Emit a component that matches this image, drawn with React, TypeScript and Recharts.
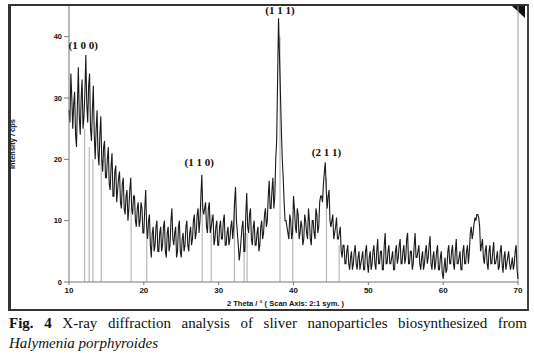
import React from "react";
import {
  LineChart,
  Line,
  XAxis,
  YAxis,
  ReferenceLine,
  ReferenceDot,
} from "recharts";

// 2θ grid: 10° .. 70° in 0.25° steps, plus readings half way between them
const startAngle = 10;
const stepAngle = 0.25;

// counts at x.00 / x.25 / x.50 / x.75
const intensity = [
  28, 34, 25, 31, // 10
  22, 35, 24, 33, // 11
  27, 37, 26, 34, // 12
  23, 32, 20, 28, // 13
  19, 27, 18, 23, // 14
  17, 22, 15, 21, // 15
  14, 19, 15, 18, // 16
  12, 17, 11, 15, // 17
  12, 17, 11, 14, // 18
  9, 13, 10, 12, // 19
  8, 15, 7, 11, // 20
  4, 9, 6, 10, // 21
  5, 9, 6, 10, // 22
  4, 9, 6, 12, // 23
  6, 9, 5, 10, // 24
  4, 8, 6, 10, // 25
  5, 9, 7, 11, // 26
  8, 12, 10, 17.5, // 27
  11, 13, 8, 13, // 28
  9, 11, 7, 10, // 29
  6, 10, 7, 11, // 30
  6, 9, 7, 10, // 31
  9, 15.5, 8, 3.5, // 32
  7, 10, 5, 14.5, // 33
  8, 12, 6, 10, // 34
  6, 9, 6, 10, // 35
  8, 12, 10, 16.5, // 36
  12, 17, 14, 23, // 37
  43, 31, 20, 13, // 38
  10, 8, 11, 7, // 39
  14, 9, 12, 7, // 40
  10, 6, 11, 8, // 41
  12, 7, 10, 8, // 42
  12, 8, 13, 14, // 43
  16, 19.5, 12, 15, // 44
  9, 11, 8, 10.5, // 45
  7, 9, 4, 6, // 46
  3, 6, 2, 5, // 47
  3, 6, 2, 5, // 48
  3, 5, 2, 6, // 49
  1.5, 5, 3, 6, // 50
  2, 7, 3, 5, // 51
  2, 8, 3, 6, // 52
  3, 5, 2, 6, // 53
  4, 7, 3, 6, // 54
  4, 8, 3, 5, // 55
  3, 8, 4, 6, // 56
  2, 5, 3, 6, // 57
  4, 7.5, 2, 5, // 58
  3, 6, 2, 5, // 59
  0.5, 4, 2, 6, // 60
  3, 6, 2, 7, // 61
  3, 5, 2, 6, // 62
  3, 6, 5, 9, // 63
  8, 10.5, 11, 10.5, // 64
  5, 7, 3, 6, // 65
  2, 6, 3, 6.5, // 66
  3, 5, 2.5, 6, // 67
  1.5, 5, 3, 5, // 68
  2, 4, 3, 6, // 69
  0.5, // 70
];

// counts at x.125 / x.375 / x.625 / x.875
const intensityMid = [
  26, 30, 29, 24, // 10
  29, 27, 30, 25, // 11
  31, 29, 32, 25, // 12
  28, 24, 25, 21, // 13
  24, 20, 22, 17, // 14
  20, 16, 19, 14, // 15
  18, 13, 17, 13, // 16
  16, 12, 14, 10, // 17
  15, 12, 14, 10, // 18
  12, 9, 13, 8, // 19
  12, 9, 10, 6, // 20
  8, 5, 9, 5, // 21
  8, 5, 9, 5, // 22
  8, 5, 10, 7, // 23
  8, 4, 9, 5, // 24
  7, 5, 9, 6, // 25
  8, 6, 10, 7, // 26
  11, 8, 14, 12, // 27
  12, 9, 12, 8, // 28
  10, 6, 9, 6, // 29
  9, 7, 10, 6, // 30
  8, 6, 9, 7, // 31
  13, 10, 6, 5, // 32
  9, 5, 11, 9, // 33
  11, 7, 9, 6, // 34
  8, 5, 9, 7, // 35
  11, 9, 14, 12, // 36
  15, 12, 20, 33, // 37
  37, 25, 17, 10, // 38
  9, 7, 10, 8, // 39
  12, 8, 11, 8, // 40
  9, 7, 10, 7, // 41
  10, 6, 10, 7, // 42
  11, 9, 14, 13, // 43
  18, 15, 14, 10, // 44
  10, 7, 9, 7, // 45
  8, 5, 6, 3, // 46
  5, 3, 4, 2, // 47
  5, 3, 4, 2, // 48
  4, 2, 5, 3, // 49
  4, 2, 5, 3, // 50
  5, 3, 5, 2, // 51
  6, 3, 5, 3, // 52
  4, 2, 5, 3, // 53
  6, 3, 5, 3, // 54
  7, 3, 5, 2, // 55
  6, 4, 5, 3, // 56
  4, 2, 5, 3, // 57
  6, 3, 4, 2, // 58
  5, 2, 4, 1.5, // 59
  2.5, 1.5, 5, 3, // 60
  5, 3, 5, 3, // 61
  4, 2, 5, 3, // 62
  5, 3, 8, 7, // 63
  9.5, 10, 11, 9, // 64
  6, 4, 5, 3, // 65
  5, 3, 5, 3, // 66
  4, 2, 5, 3, // 67
  4, 2, 4, 3, // 68
  3, 2, 5, 2, // 69
];

// reference pattern sticks: position (2θ) and top
const stickAngles = [12.1, 12.7, 13.2, 14.3, 18.3, 20.4, 27.8, 29.0, 32.1, 33.4, 33.8, 38.2, 39.9, 44.4, 46.1];
const stickTops = [25, 22, 20, 20, 12, 8, 15, 11, 13, 8, 8, 40, 9, 17, 6];

// Miller indices
const peakLabels = ["(1 0 0)", "(1 1 1)", "(1 1 0)", "(2 1 1)"];
const peakLabelX = [11.9, 38.2, 27.4, 44.4];
const peakLabelY = [38.7, 44.3, 19.6, 21.2];

const xTicks = [10, 20, 30, 40, 50, 60, 70];
const yTicks = [0, 10, 20, 30, 40];

const data = intensity.flatMap((v, i) => {
  const rows = [{ theta: startAngle + i * stepAngle, cps: v }];
  if (i < intensityMid.length) {
    rows.push({ theta: startAngle + (i + 0.5) * stepAngle, cps: intensityMid[i] });
  }
  return rows;
});

const axisFont = { fontFamily: "'Liberation Sans', Arial, sans-serif", fontWeight: 700 };

export default function App() {
  return (
    <div style={{ position: "absolute", left: 0, top: 0, width: 534, height: 353, background: "#fff" }}>
      {/* frame around the plot */}
      <div
        style={{
          position: "absolute",
          left: 8,
          top: 4,
          width: 516,
          height: 303,
          borderTop: "2px solid #333",
          borderLeft: "3px solid #333",
          borderBottom: "2px solid #333",
          borderRight: "2px solid #444",
        }}
      />
      <div
        style={{
          position: "absolute",
          left: 512,
          top: 6,
          width: 0,
          height: 0,
          borderTop: "12px solid #111",
          borderLeft: "13px solid transparent",
        }}
      />
      <div style={{ position: "absolute", left: 0, top: 0 }}>
        <LineChart width={534} height={310} data={data} margin={{ top: 6, right: 16, left: 0, bottom: 0 }}>
          <XAxis
            dataKey="theta"
            type="number"
            domain={[10, 70]}
            ticks={xTicks}
            height={28}
            stroke="#777"
            tickSize={3}
            tick={{ ...axisFont, fontSize: 8, fill: "#111" }}
            label={{
              value: "2 Theta / °   ( Scan Axis: 2:1 sym. )",
              position: "insideBottom",
              offset: 4,
              dx: -8,
              style: { ...axisFont, fontSize: 7.5, fill: "#111", whiteSpace: "pre" },
            }}
          />
          <YAxis
            type="number"
            domain={[0, 45]}
            ticks={yTicks}
            width={69}
            stroke="#777"
            tickSize={5}
            tickMargin={2}
            tick={{ ...axisFont, fontSize: 7.5, fill: "#111" }}
            label={{
              value: "Intensity / cps",
              angle: -90,
              position: "insideLeft",
              offset: 12,
              style: { ...axisFont, fontSize: 7.5, fill: "#111", textAnchor: "middle" },
            }}
          />
          <ReferenceLine x={70} stroke="#999" strokeWidth={1} />
          {stickAngles.map((a, i) => (
            <ReferenceLine
              key={a}
              segment={[
                { x: a, y: 0 },
                { x: a, y: stickTops[i] },
              ]}
              stroke="#aaa"
              strokeWidth={1}
            />
          ))}
          <Line
            type="linear"
            dataKey="cps"
            stroke="#1a1a1a"
            strokeWidth={1.1}
            dot={false}
            isAnimationActive={false}
          />
          {peakLabels.map((t, i) => (
            <ReferenceDot
              key={t}
              x={peakLabelX[i]}
              y={peakLabelY[i]}
              r={0}
              ifOverflow="visible"
              label={{
                value: t,
                position: "center",
                style: { fontFamily: "'Liberation Serif', serif", fontWeight: 700, fontSize: 11, fill: "#111" },
              }}
            />
          ))}
        </LineChart>
      </div>
      <div
        style={{
          position: "absolute",
          left: 9,
          top: 313,
          width: 518,
          fontFamily: "'Liberation Serif', serif",
          fontSize: 15,
          lineHeight: "20px",
          color: "#111",
        }}
      >
        <div style={{ textAlign: "justify", textAlignLast: "justify", whiteSpace: "normal" }}>
          <b>Fig. 4</b> X-ray diffraction analysis of sliver nanoparticles biosynthesized from
        </div>
        <div>
          <i>Halymenia porphyroides</i>
        </div>
      </div>
    </div>
  );
}
